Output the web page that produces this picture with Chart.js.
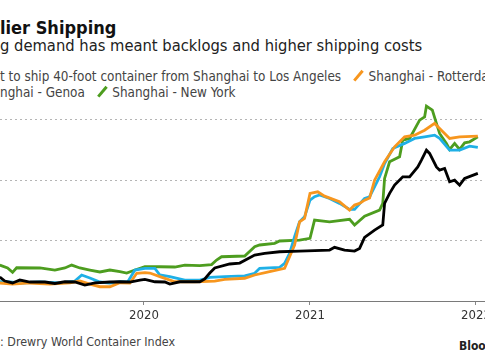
<!DOCTYPE html>
<html><head><meta charset="utf-8">
<script src="https://cdn.jsdelivr.net/npm/chart.js@4.4.0/dist/chart.umd.min.js"></script>
<style>
html,body{margin:0;padding:0;width:485px;height:360px;overflow:hidden;background:#fff;}
body{position:relative;font-family:"DejaVu Sans Condensed","DejaVu Sans",sans-serif;}
.ln{position:absolute;left:0;white-space:nowrap;}
#title{top:19px;font-size:18px;line-height:18px;font-weight:bold;color:#111;}
#sub{top:38.4px;font-size:16.4px;line-height:16.4px;color:#222;}
#leg1{top:69.4px;font-size:13.4px;line-height:13.4px;color:#444;}
#leg2{top:85.2px;font-size:13.4px;line-height:13.4px;color:#444;}
#src{top:335.5px;font-size:12.4px;line-height:12.4px;color:#444;}
#brand{top:340px;left:459px;font-size:12px;line-height:12px;font-weight:bold;color:#222;}
.mk{display:inline-block;width:2.5px;height:13px;transform:rotate(40deg);vertical-align:-1px;margin:0 9px 0 16px;}
.pre .mk{margin-left:0;}
#wrap{position:absolute;left:0;top:90px;width:485px;height:240px;}
</style></head>
<body>
<div class="ln" id="title"><span class="pre">Cost</span>lier Shipping</div>
<div class="ln" id="sub"><span class="pre">Surgin</span>g demand has meant backlogs and higher shipping costs</div>
<div class="ln" id="leg1"><span class="pre"><i class="mk" style="background:#000"></i>Cos</span>t to ship 40-foot container from Shanghai to Los Angeles<i class="mk" style="background:#f7961e"></i>Shanghai - Rotterdam</div>
<div class="ln" id="leg2"><span class="pre"><i class="mk" style="background:#1fb0e6"></i>Sha</span>nghai - Genoa<i class="mk" style="background:#4d9d1f"></i>Shanghai - New York</div>
<div class="ln" id="src"><span class="pre">Source</span>: Drewry World Container Index</div>
<div class="ln" id="brand">Bloomberg</div>
<div id="wrap"><canvas id="c" width="485" height="240"></canvas></div>
<script>
// Series names
const seriesNames = ['Cost to ship 40-foot container from Shanghai to Los Angeles','Shanghai - Rotterdam','Shanghai - Genoa','Shanghai - New York'];
const xTickYears = [2020, 2021, 2022];
const yGridValues = [0, 5000, 10000, 15000];

// Shanghai - Los Angeles (USD per 40ft container)
const laDates = ['2019-02-18','2019-03-01','2019-03-18','2019-04-03','2019-04-25','2019-05-28','2019-06-19','2019-07-11','2019-08-02','2019-08-24',
'2019-09-15','2019-10-18','2019-11-09','2019-12-01','2019-12-23','2020-01-03','2020-01-25','2020-02-16','2020-02-27','2020-03-20',
'2020-05-03','2020-05-14','2020-05-25','2020-06-05','2020-07-08','2020-07-30','2020-09-01','2020-09-23','2020-10-26','2020-12-09',
'2021-02-13','2021-02-24','2021-03-18','2021-04-09','2021-04-20','2021-05-01','2021-05-23','2021-06-10','2021-06-14','2021-06-25',
'2021-07-06','2021-07-24','2021-08-08','2021-08-26','2021-09-03','2021-09-14','2021-09-21','2021-10-06','2021-10-13','2021-10-24',
'2021-11-04','2021-11-15','2021-11-26','2021-12-07','2022-01-05'];
const laValues = [1980,1650,1490,1730,1570,1570,1450,1590,1570,1320,
1490,1570,1590,1570,1730,1790,1590,1570,1400,1590,
1590,1820,2310,2730,3060,3140,3800,3940,4070,4130,
4210,4440,4210,4130,4350,5250,5860,6280,8070,8900,
9580,10270,10270,11090,11650,12470,12200,11090,10820,10960,
9850,9990,9580,10130,10550];

// Shanghai - Rotterdam
const rotDates = ['2019-02-18','2019-03-18','2019-04-25','2019-06-08','2019-07-22','2019-08-13','2019-09-04','2019-09-26','2019-10-18','2019-11-09',
'2019-12-01','2019-12-16','2020-01-03','2020-01-14','2020-02-05','2020-03-09','2020-04-22','2020-06-05','2020-06-27','2020-08-10',
'2020-09-01','2020-10-04','2020-11-06','2020-11-17','2020-11-28','2020-12-09','2020-12-20','2021-01-01','2021-01-18','2021-02-02',
'2021-03-07','2021-03-29','2021-04-09','2021-04-20','2021-05-01','2021-05-12','2021-05-23','2021-06-14','2021-07-06','2021-07-28',
'2021-08-19','2021-09-10','2021-10-02','2021-10-13','2021-11-04','2021-11-26','2022-01-05'];
const rotValues = [1490,1400,1490,1400,1490,1650,1400,1180,1180,1510,
1490,2290,2340,2310,2010,1590,1590,1650,1790,1880,
2150,2420,2700,3660,4630,6550,6830,8900,9030,8670,
8200,7520,7930,8070,8340,8510,9990,11510,12750,13570,
13710,14120,14680,14260,13440,13570,13630];

// Shanghai - Genoa
const genDates = ['2019-02-18','2019-03-12','2019-04-03','2019-05-17','2019-06-30','2019-08-02','2019-08-17','2019-09-04','2019-09-26','2019-10-18',
'2019-11-09','2019-11-26','2019-12-12','2020-01-03','2020-01-25','2020-02-05','2020-02-27','2020-03-31','2020-05-03','2020-05-25',
'2020-06-27','2020-08-10','2020-09-01','2020-09-12','2020-10-26','2020-11-06','2020-11-17','2020-11-28','2020-12-09','2020-12-20',
'2021-01-01','2021-01-11','2021-01-22','2021-02-13','2021-03-07','2021-03-29','2021-04-09','2021-05-01','2021-05-12','2021-06-03',
'2021-06-14','2021-07-02','2021-07-28','2021-08-19','2021-09-10','2021-10-02','2021-10-13','2021-11-04','2021-11-26','2021-12-18',
'2022-01-05'];
const genValues = [1590,1570,1490,1570,1490,1650,2150,1900,1570,1490,
1590,1570,2560,2700,2700,2150,2010,1730,1730,1960,
2010,2070,2290,2700,2780,3110,3940,5310,6550,6960,
8340,8620,8760,8480,8070,7570,7570,8480,8620,10270,
11370,12610,13030,13440,13570,13710,13440,12470,12470,12800,
12700];

// Shanghai - New York
const nyDates = ['2019-02-18','2019-03-07','2019-03-18','2019-03-27','2019-05-17','2019-06-19','2019-07-11','2019-07-26','2019-08-13','2019-09-04',
'2019-09-26','2019-10-18','2019-11-09','2019-11-24','2019-12-12','2020-01-03','2020-02-05','2020-03-09','2020-03-31','2020-05-03',
'2020-05-29','2020-06-09','2020-06-20','2020-08-10','2020-09-01','2020-09-12','2020-10-15','2020-10-26','2020-12-09','2021-01-01',
'2021-01-11','2021-02-13','2021-03-29','2021-04-09','2021-05-01','2021-06-03','2021-06-10','2021-06-14','2021-06-25','2021-07-17',
'2021-07-24','2021-08-08','2021-08-30','2021-09-10','2021-09-14','2021-09-27','2021-10-06','2021-10-13','2021-10-28','2021-11-04',
'2021-11-15','2021-11-26','2021-12-07','2021-12-18','2022-01-05'];
const nyValues = [2970,2730,2370,2750,2730,2560,2730,2970,2730,2560,
2400,2560,2420,2310,2560,2830,2830,2810,2970,2930,
3010,3390,3660,3720,4490,4630,4770,4960,5040,5180,
6690,6550,6750,6280,7020,7520,8070,10130,11510,11920,
13300,13440,14950,15220,16110,15780,14680,13850,13030,12530,
13030,12530,13080,13160,13570];

const seriesColors = ['#000000','#f7961e','#1fb0e6','#4d9d1f'];

// shift clipped text lines so the hidden prefix sits off the left edge
document.querySelectorAll('.ln').forEach(el => {
  const p = el.querySelector('.pre');
  if (p) el.style.left = (-p.getBoundingClientRect().width) + 'px';
});

function toYear(s) {
  const [y, m, d] = s.split('-').map(Number);
  const t = Date.UTC(y, m - 1, d), t0 = Date.UTC(y, 0, 1), t1 = Date.UTC(y + 1, 0, 1);
  return y + (t - t0) / (t1 - t0);
}
function pts(dates, vals) { return dates.map((d, i) => ({x: toYear(d), y: vals[i]})); }

const sets = [[laDates, laValues],[rotDates, rotValues],[genDates, genValues],[nyDates, nyValues]];
const datasets = sets.map((s, i) => ({
  label: seriesNames[i], data: pts(s[0], s[1]),
  borderColor: seriesColors[i], backgroundColor: seriesColors[i],
  borderWidth: 2.8, pointRadius: 0, tension: 0, fill: false
}));

const PX_PER_YEAR = 166;
const xMin = 2020 - 144 / PX_PER_YEAR, xMax = xMin + 485 / PX_PER_YEAR;

new Chart(document.getElementById('c'), {
  type: 'line',
  data: { datasets },
  options: {
    responsive: false, animation: false, devicePixelRatio: 1,
    layout: { padding: { top: 9, left: 0, right: 0, bottom: 0 } },
    plugins: { legend: { display: false }, tooltip: { enabled: false } },
    scales: {
      x: {
        type: 'linear', min: xMin, max: xMax,
        afterBuildTicks: sc => { sc.ticks = xTickYears.map(v => ({value: v})); },
        afterFit: sc => { sc.height = 29; sc.paddingLeft = 0; sc.paddingRight = 0; },
        ticks: { callback: v => String(v), color: '#333', padding: 3, maxRotation: 0, autoSkip: false,
                 font: { family: '"DejaVu Sans Condensed","DejaVu Sans"', size: 13 } },
        grid: { drawOnChartArea: false, drawTicks: true, tickLength: 4, color: '#888' },
        border: { display: true, color: '#7a7a7a', width: 1 }
      },
      y: {
        position: 'right', min: 0, max: 16700,
        afterBuildTicks: sc => { sc.ticks = yGridValues.map(v => ({value: v})); },
        afterFit: sc => { sc.width = 0; sc.paddingTop = 0; sc.paddingBottom = 0; },
        ticks: { display: false },
        grid: { drawTicks: false, color: c => c.tick && c.tick.value === 0 ? 'rgba(0,0,0,0)' : '#b5b5b5', lineWidth: 1 },
        border: { display: false, dash: [2, 3] }
      }
    }
  }
});
</script>
</body></html>
